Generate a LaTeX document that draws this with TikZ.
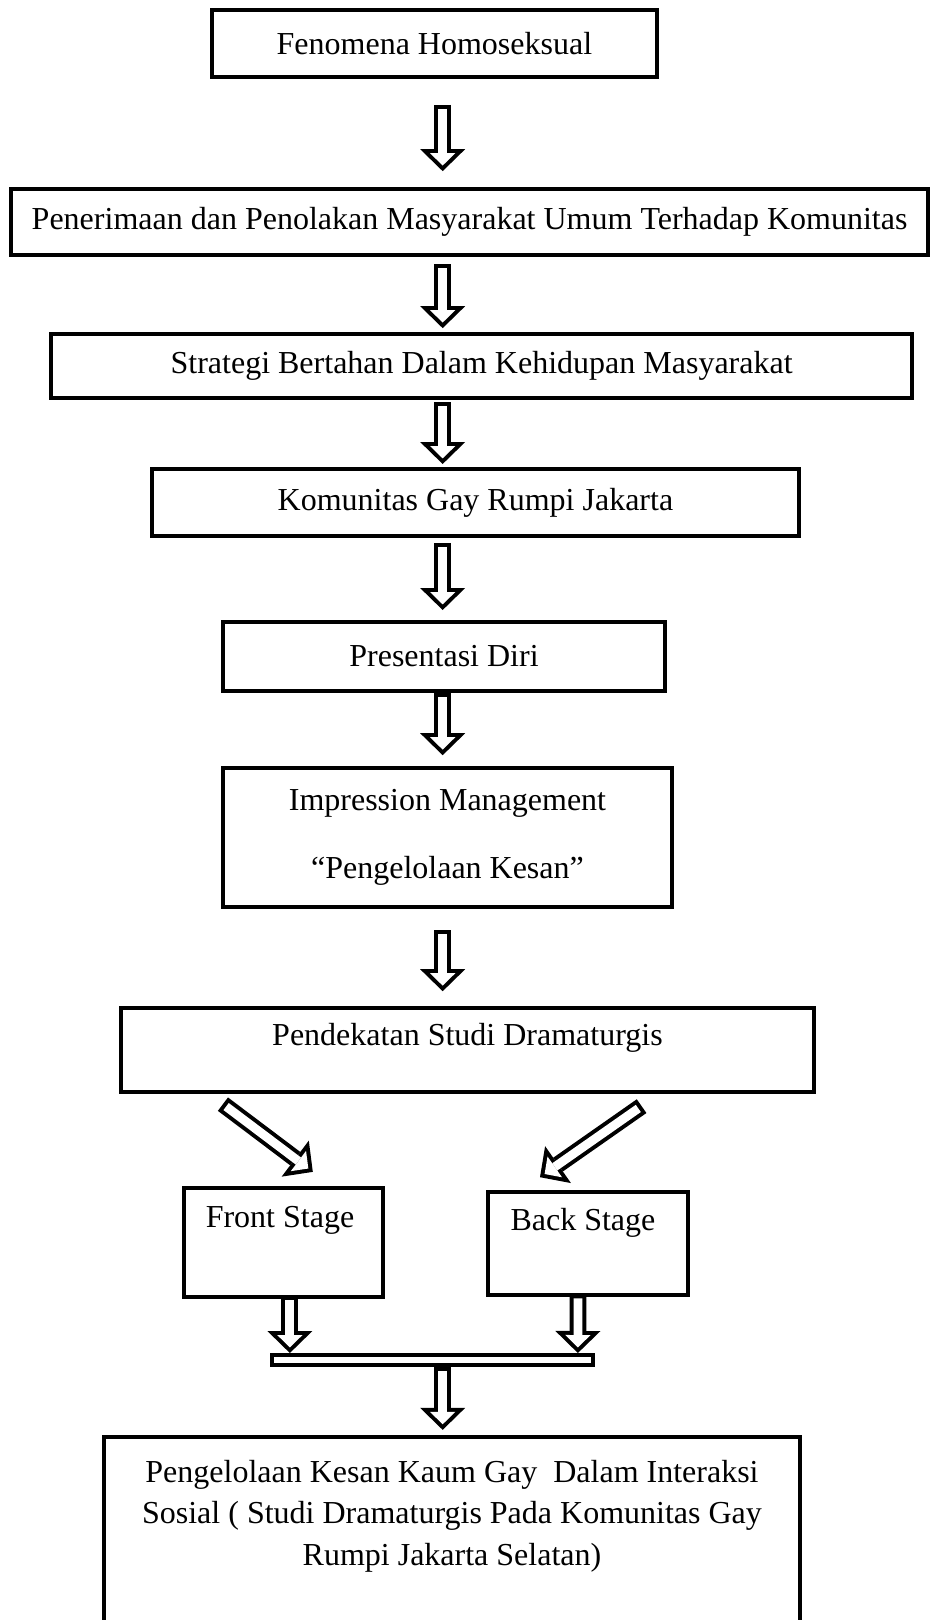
\documentclass[tikz,border=0pt]{standalone}
\usepackage{fontspec}
\setmainfont{Liberation Serif}
\usetikzlibrary{arrows.meta,calc}

\begin{document}
\begin{tikzpicture}[x=1pt,y=-1pt,
  font=\fontsize{12pt}{15.5pt}\selectfont,
  box/.style={draw,line width=1.5pt,inner sep=0pt,align=center},
  txt/.style={inner sep=0pt,align=center},
  hollow/.style={line width=6.3pt,-{Triangle[length=8.25pt,width=16.9pt,line width=0pt]},
    postaction={draw=white,line width=3.3pt,shorten <=1.5pt,shorten >=2.1pt,
      -{Triangle[length=4.65pt,width=9.5pt,line width=0pt]}}}]
\path[use as bounding box,fill=white] (0,0) rectangle (349.5,607.5);
\coordinate (spine) at (166,0);
\node[box,minimum width=166.9pt,minimum height=25.1pt] (fenomena) at (162.9,16.3) {Fenomena Homoseksual};
\node[box,minimum width=343.9pt,minimum height=24.75pt] (penerimaan) at (176.1,83.3) {Penerimaan dan Penolakan Masyarakat Umum Terhadap Komunitas};
\node[box,minimum width=322.9pt,minimum height=24pt] (strategi) at (180.6,137.3) {Strategi Bertahan Dalam Kehidupan Masyarakat};
\node[box,minimum width=242.6pt,minimum height=25.1pt] (komunitas) at (178.3,188.4) {Komunitas Gay Rumpi Jakarta};
\node[box,minimum width=165.8pt,minimum height=25.9pt] (presentasi) at (166.5,246.2) {Presentasi Diri};
\node[box,minimum width=168.4pt,minimum height=52.1pt] (impression) at (167.8,314.1) {Impression Management\\[10pt]“Pengelolaan Kesan”};
\node[box,minimum width=259.9pt,minimum height=31.5pt] (pendekatan) at (175.3,393.8) {};
\node[txt] (pendekatan-t) at ($(pendekatan.north)+(0,12)$) {Pendekatan Studi Dramaturgis};
\node[box,minimum width=74.6pt,minimum height=40.9pt] (front) at (106.3,465.9) {};
\node[txt] (front-t) at ($(front.north)+(-1.3,13.1)$) {Front Stage};
\node[box,minimum width=75pt,minimum height=38.6pt] (back) at (220.5,466.3) {};
\node[txt] (back-t) at ($(back.north)+(-1.9,12.4)$) {Back Stage};
\node[box,minimum width=120.4pt,minimum height=3.75pt] (bar) at (162.2,510) {};
\node[box,minimum width=261pt,minimum height=79.9pt] (kesan) at (169.5,578.8) {};
\node[txt] (kesan-t) at ($(kesan.north)+(0,30.4)$) {Pengelolaan Kesan Kaum Gay\ \ Dalam Interaksi\\Sosial ( Studi Dramaturgis Pada Komunitas Gay\\Rumpi Jakarta Selatan)};
\draw[hollow] ($(fenomena.south -| spine)+(0,9.75)$) -- ($(penerimaan.north -| spine)+(0,-6)$);
\draw[hollow] ($(penerimaan.south -| spine)+(0,2.6)$) -- ($(strategi.north -| spine)+(0,-1.5)$);
\draw[hollow] ($(strategi.south -| spine)+(0,0.75)$) -- ($(komunitas.north -| spine)+(0,-1.1)$);
\draw[hollow] ($(komunitas.south -| spine)+(0,1.9)$) -- ($(presentasi.north -| spine)+(0,-3.75)$);
\draw[hollow] (presentasi.south -| spine) -- ($(impression.north -| spine)+(0,-4.1)$);
\draw[hollow] ($(impression.south -| spine)+(0,7.9)$) -- ($(pendekatan.north -| spine)+(0,-5.6)$);
\draw[hollow] ($(pendekatan.south west)+(39,3.75)$) -- ($(front.north)+(11,-5.25)$);
\draw[hollow] ($(pendekatan.south east)+(-65.4,4.5)$) -- ($(back.north)+(-18,-4.8)$);
\draw[hollow] ($(front.south)+(2.4,-1)$) -- ($(bar.north)+(-53.5,0)$);
\draw[hollow] ($(back.south)+(-3.75,-1)$) -- ($(bar.north)+(54.5,0)$);
\draw[hollow] (bar.south -| spine) -- ($(kesan.north -| spine)+(0,-1.9)$);
\end{tikzpicture}
\end{document}
